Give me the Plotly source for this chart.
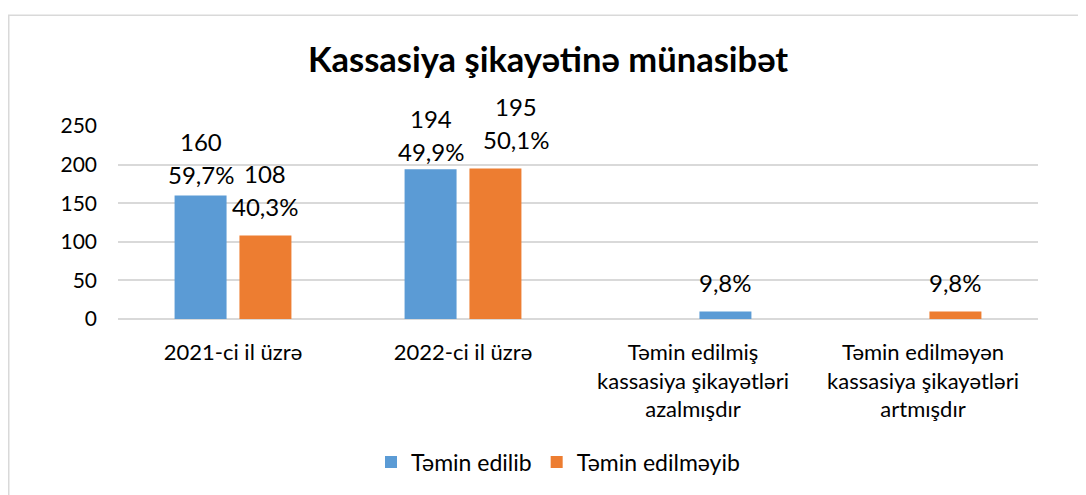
import plotly.graph_objects as go

categories = [
    "2021-ci il üzrə",
    "2022-ci il üzrə",
    "Təmin edilmiş<br>kassasiya şikayətləri<br>azalmışdır",
    "Təmin edilməyən<br>kassasiya şikayətləri<br>artmışdır",
]
series_names = ["Təmin edilib", "Təmin edilməyib"]
temin_edilib = [160, 194, 9.8, None]
temin_edilmeyib = [108, 195, None, 9.8]
y_ticks = [0, 50, 100, 150, 200, 250]
title_text = "Kassasiya şikayətinə münasibət"

BLUE = "#5B9BD5"
ORANGE = "#ED7D31"
FONT = "Lato, Carlito, Calibri, sans-serif"

# the page body adds an 8px margin; figure is sized to fit inside the window
FW, FH = 1078, 487
PL, PR, PT, PB = 110, 48, 118, 172
PW = FW - PL - PR
PH = FH - PT - PB
CAT_PX = PW / len(categories)

# label placement (pixels): lift of the bottom label line above the bar top,
# and horizontal nudge, as in the reference chart
blue_label_dy = [19, 16, 27, 0]
orange_label_dy = [27, 27, 0, 27]
blue_label_dx = [0, 0, 0, 0]
orange_label_dx = [0, 21, 0, 0]
LINE_GAP = 33


def fmt_pct(v):
    return ("%.1f%%" % v).replace(".", ",")


def label_lines(own, other):
    out = []
    for a, b in zip(own, other):
        if a is None:
            out.append([])
        elif b is None:
            out.append([fmt_pct(a)])
        else:
            # bottom line first
            out.append([fmt_pct(100.0 * a / (a + b)), "%d" % a])
    return out


blue_lines = label_lines(temin_edilib, temin_edilmeyib)
orange_lines = label_lines(temin_edilmeyib, temin_edilib)

W = 0.226
LEFT = -0.254
RIGHT = 0.028
blue_offsets = [LEFT if o is not None else RIGHT for o in temin_edilmeyib]
orange_offsets = [RIGHT] * len(categories)

fig = go.Figure()
fig.add_trace(go.Bar(
    x=categories, y=temin_edilib, name=series_names[0],
    marker=dict(color=BLUE, line=dict(width=0)),
    width=W, offset=blue_offsets, hoverinfo="x+y",
))
fig.add_trace(go.Bar(
    x=categories, y=temin_edilmeyib, name=series_names[1],
    marker=dict(color=ORANGE, line=dict(width=0)),
    width=W, offset=orange_offsets, hoverinfo="x+y",
))

annotations = []
for vals, lines, offs, dys, dxs in [
    (temin_edilib, blue_lines, blue_offsets, blue_label_dy, blue_label_dx),
    (temin_edilmeyib, orange_lines, orange_offsets, orange_label_dy, orange_label_dx),
]:
    for cat, v, ls, off, dy, dx in zip(categories, vals, lines, offs, dys, dxs):
        if v is None:
            continue
        cx = (off + W / 2) * CAT_PX + dx
        for i, line in enumerate(ls):
            annotations.append(dict(
                x=cat, y=v, xref="x", yref="y", text=line, showarrow=False,
                xanchor="center", yanchor="middle",
                xshift=cx, yshift=dy + 2 + i * LINE_GAP,
                font=dict(size=24, family=FONT, color="#000000"),
            ))

fig.update_layout(
    width=FW, height=FH,
    margin=dict(l=PL, r=PR, t=PT, b=PB),
    paper_bgcolor="white", plot_bgcolor="white",
    barmode="group",
    font=dict(family=FONT, size=21, color="#000000"),
    title=dict(text="<b>%s</b>" % title_text, x=540 / FW, xanchor="center",
               y=1 - 52 / FH, yanchor="middle",
               font=dict(size=34.5, family=FONT, color="#000000")),
    legend=dict(orientation="h", x=(550 - PL) / PW, xanchor="center",
                y=(PT + PH - 461) / PH, yanchor="middle",
                font=dict(size=23, family=FONT),
                traceorder="normal", itemwidth=30),
    showlegend=True,
    annotations=annotations,
)
fig.update_xaxes(showgrid=False, showline=False, ticks="",
                 ticklabelstandoff=18,
                 tickfont=dict(size=22, family=FONT, color="#000000"))
fig.update_yaxes(range=[0, 250], tickvals=y_ticks, showgrid=True,
                 gridcolor="#D9D9D9", gridwidth=1.5, zeroline=True,
                 zerolinecolor="#D9D9D9", zerolinewidth=1.5, showline=False,
                 ticks="", ticklabelstandoff=20,
                 tickfont=dict(size=21, family=FONT, color="#000000"))

fig.add_shape(type="rect", xref="paper", yref="paper",
              x0=(0.75 - PL) / PW, x1=(FW + 20 - PL) / PW,
              y0=(PT + PH - 5) / PH, y1=(PT + PH - FH - 20) / PH,
              line=dict(color="#D9D9D9", width=1.5), fillcolor="rgba(0,0,0,0)",
              layer="below")

fig.write_html("out.html")
